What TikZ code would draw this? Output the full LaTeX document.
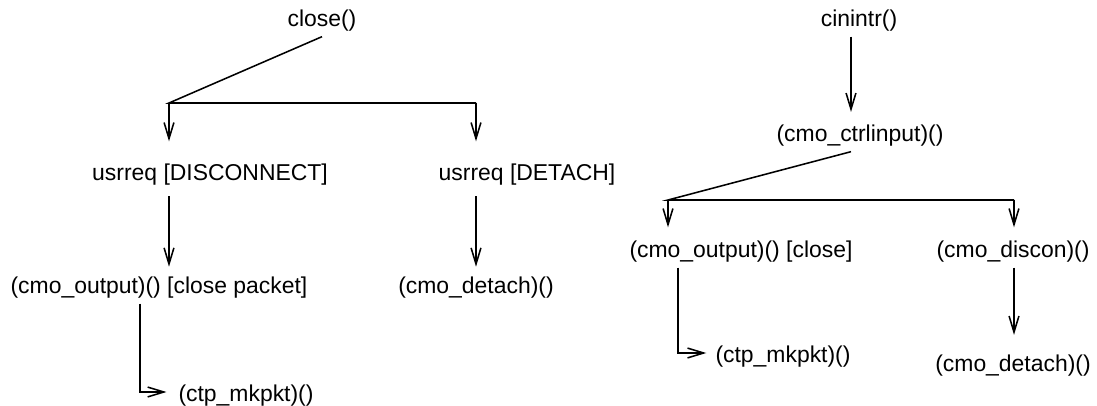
\documentclass[tikz,border=0pt]{standalone}
\usepackage{fontspec}
\setmainfont{Liberation Sans}
\usetikzlibrary{arrows.meta}

\begin{document}
\begin{tikzpicture}[x=0.025cm,y=-0.025cm,->,>={Straight Barb[length=11.5pt,width=7pt]},line width=1.1pt,
    call node/.style={inner sep=3pt,font=\fontsize{16.3}{19.5}\selectfont}]
\useasboundingbox (0,0) rectangle (1097,406);

% close() side
\node[call node] (close)  at (322,21)  {close()};
\node[call node] (disc)   at (210,175) {usrreq [DISCONNECT]};
\node[call node] (detach) at (527,175) {usrreq [DETACH]};
\node[call node] (outL)   at (159,288) {(cmo\_output)() [close packet]};
\node[call node] (detL)   at (476,288) {(cmo\_detach)()};
\node[call node] (mkL)    at (246,396) {(ctp\_mkpkt)()};
\coordinate (forkL)  at (169,103);
\coordinate (forkLR) at (476,103);
\coordinate (bendL)  at (140,392);

\draw[-] (close.south) -- (forkL) -- (forkLR);
\draw[shorten >=12.8pt] (forkL) -- (forkL |- disc.north);
\draw[shorten >=12.8pt] (forkLR) -- (forkLR |- detach.north);
\draw[shorten <=4pt,shorten >=4pt] (disc.south -| forkL) -- (outL.north -| forkL);
\draw[shorten <=4pt,shorten >=4pt] (detach.south -| forkLR) -- (detL.north);
\draw[shorten >=5pt] (outL.south -| bendL) -- (bendL) -- (bendL -| mkL.west);

% cinintr() side
\node[call node] (cin)    at (859,21)   {cinintr()};
\node[call node] (ctrl)   at (860,136)  {(cmo\_ctrlinput)()};
\node[call node] (outR)   at (741,252)  {(cmo\_output)() [close]};
\node[call node] (discon) at (1013,252) {(cmo\_discon)()};
\node[call node] (mkR)    at (783,357)  {(ctp\_mkpkt)()};
\node[call node] (detR)   at (1013,366) {(cmo\_detach)()};
\coordinate (topR)   at (851,151);
\coordinate (forkR)  at (668,200);
\coordinate (forkRR) at (1014,200);
\coordinate (bendR)  at (678,353);

\draw[shorten >=6pt] (cin.south -| topR) -- (ctrl.north -| topR);
\draw[-] (ctrl.south -| topR) -- (forkR) -- (forkRR);
\draw[shorten >=6.4pt] (forkR) -- (forkR |- outR.north);
\draw[shorten >=6.4pt] (forkRR) -- (forkRR |- discon.north);
\draw[shorten >=3pt] (outR.south -| bendR) -- (bendR) -- (bendR -| mkR.west);
\draw[shorten >=11pt] (discon.south -| forkRR) -- (detR.north -| forkRR);
\end{tikzpicture}
\end{document}
